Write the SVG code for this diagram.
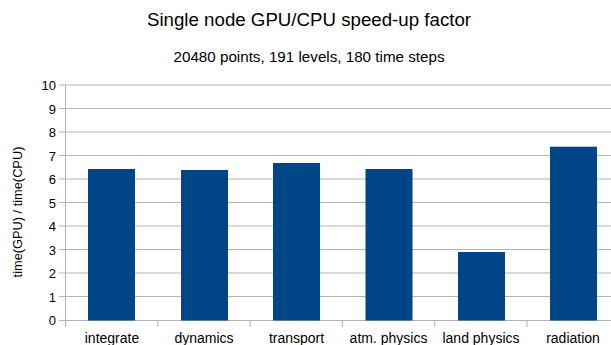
<svg xmlns="http://www.w3.org/2000/svg" width="611" height="345" viewBox="0 0 611 345">
<style>
text{font-family:"Liberation Sans",Arial,sans-serif;fill:#000}
.grid{stroke:#b3b3b3;stroke-width:1}
.bar{fill:#004586}
.yl{font-size:13px;text-anchor:end}
.xl{font-size:14px;text-anchor:middle}
</style>
<rect width="611" height="345" fill="#fff"/>
<text x="309" y="26" font-size="18.7" text-anchor="middle">Single node GPU/CPU speed-up factor</text>
<text x="309" y="62" font-size="15.2" text-anchor="middle">20480 points, 191 levels, 180 time steps</text>
<g id="grid">
<path class="grid" d="M59 85H611M59 108.5H611M59 132H611M59 155.5H611M59 179H611M59 202.5H611M59 226H611M59 249.5H611M59 273H611M59 296.5H611M59 320.5H611"/>
<path class="grid" d="M65.5 85V327M157.8 320V327M250.1 320V327M342.4 320V327M434.7 320V327M527 320V327"/>
</g>
<g id="yaxis">
<text class="yl" x="56" y="90">10</text>
<text class="yl" x="56" y="113.5">9</text>
<text class="yl" x="56" y="137">8</text>
<text class="yl" x="56" y="160.5">7</text>
<text class="yl" x="56" y="184">6</text>
<text class="yl" x="56" y="207.5">5</text>
<text class="yl" x="56" y="231">4</text>
<text class="yl" x="56" y="254.5">3</text>
<text class="yl" x="56" y="278">2</text>
<text class="yl" x="56" y="301.5">1</text>
<text class="yl" x="56" y="325">0</text>
<text x="0" y="0" font-size="12.8" text-anchor="middle" transform="translate(22 212) rotate(-90)">time(GPU) / time(CPU)</text>
</g>
<g id="bars">
<rect class="bar" x="88" y="169" width="47" height="151.5"/>
<rect class="bar" x="181" y="170" width="47" height="150.5"/>
<rect class="bar" x="273" y="163" width="47" height="157.5"/>
<rect class="bar" x="365.5" y="169" width="47" height="151.5"/>
<rect class="bar" x="458" y="252" width="47" height="68.5"/>
<rect class="bar" x="550" y="146.7" width="47" height="173.8"/>
</g>
<g id="xlabels">
<text class="xl" x="112" y="343">integrate</text>
<text class="xl" x="204" y="343">dynamics</text>
<text class="xl" x="296.5" y="343">transport</text>
<text class="xl" x="388.5" y="343">atm. physics</text>
<text class="xl" x="481" y="343">land physics</text>
<text class="xl" x="573" y="343">radiation</text>
</g>
</svg>
